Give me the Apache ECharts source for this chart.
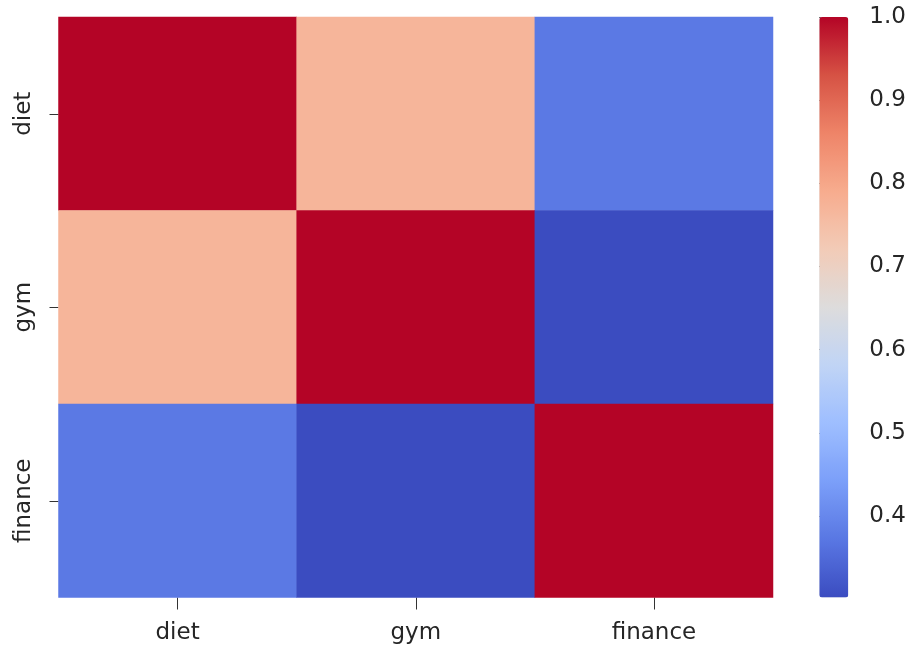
<!DOCTYPE html>
<html><head><meta charset="utf-8">
<script src="https://cdn.jsdelivr.net/npm/echarts@6/dist/echarts.min.js"></script>
<style>html,body{margin:0;padding:0;background:#fff}#c{width:909px;height:650px}</style>
</head><body><div id="c"></div>
<script>
const categories = ['diet', 'gym', 'finance'];
const rowDiet = [1.0, 0.77, 0.375];
const rowGym = [0.77, 1.0, 0.302];
const rowFinance = [0.375, 0.302, 1.0];
const colorbarTicks = [0.4, 0.5, 0.6, 0.7, 0.8, 0.9, 1.0];
const vMin = 0.302, vMax = 1.0;
const coolwarm = ['#3b4cc0','#5977e3','#7b9ff9','#9ebeff','#c0d4f5','#dddcdc','#f2cbb7','#f7ac8e','#ee8468','#d65244','#b40426'];

const rows = [rowDiet, rowGym, rowFinance];
const data = [];
rows.forEach((r, yi) => r.forEach((v, xi) => data.push([xi, yi, v])));

const font = 'DejaVu Sans';
const txt = '#262626';
const chart = echarts.init(document.getElementById('c'), null, {renderer: 'canvas'});
chart.setOption({
  animation: false,
  backgroundColor: '#fff',
  grid: [
    {left: 58.5, top: 17, width: 714.5, height: 580.5},
    {left: 819.3, top: 17, width: 29, height: 580.5}
  ],
  xAxis: [
    {type: 'category', gridIndex: 0, data: categories, axisLine: {show: false},
     axisTick: {show: true, length: 12, alignWithLabel: true, lineStyle: {color: '#333'}},
     axisLabel: {margin: 24, fontFamily: font, fontSize: 23, color: txt}, splitLine: {show: false}},
    {type: 'value', gridIndex: 1, show: false, min: 0, max: 1}
  ],
  yAxis: [
    {type: 'category', gridIndex: 0, data: categories, inverse: true, axisLine: {show: false},
     axisTick: {show: true, length: 9, alignWithLabel: true, lineStyle: {color: '#333'}},
     axisLabel: {rotate: 90, margin: 23, fontFamily: font, fontSize: 23, color: txt}, splitLine: {show: false}},
    {type: 'value', gridIndex: 1, position: 'right', min: vMin, max: vMax,
     axisLine: {show: false}, splitLine: {show: false},
     axisTick: {show: true, length: 12, customValues: colorbarTicks, lineStyle: {color: '#333'}},
     axisLabel: {customValues: colorbarTicks, margin: 21, fontFamily: font, fontSize: 23, color: txt,
       formatter: v => v.toFixed(1)}}
  ],
  visualMap: {
    type: 'continuous', min: vMin, max: vMax, seriesIndex: 0, calculable: false,
    orient: 'vertical', left: 819.3, top: 17, itemWidth: 29, itemHeight: 580.5,
    padding: 0, text: null, showLabel: false, hoverLink: false,
    inRange: {color: coolwarm}
  },
  series: [
    {type: 'heatmap', xAxisIndex: 0, yAxisIndex: 0, data: data, emphasis: {disabled: true},
     itemStyle: {borderWidth: 0}},
    {type: 'scatter', xAxisIndex: 1, yAxisIndex: 1, data: [], silent: true}
  ]
});
</script></body></html>
